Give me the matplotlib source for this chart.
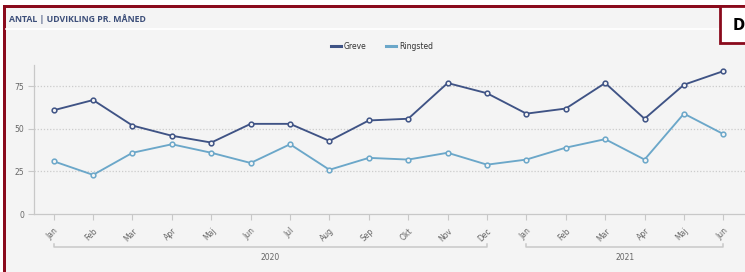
import numpy as np
import matplotlib.pyplot as plt
from matplotlib.patches import Rectangle
from matplotlib.lines import Line2D

months = ["Jan", "Feb", "Mar", "Apr", "Maj", "Jun", "Jul", "Aug", "Sep", "Okt", "Nov", "Dec",
          "Jan", "Feb", "Mar", "Apr", "Maj", "Jun"]
greve = [61, 67, 52, 46, 42, 53, 53, 43, 55, 56, 77, 71, 59, 62, 77, 56, 76, 84]
ringsted = [31, 23, 36, 41, 36, 30, 41, 26, 33, 32, 36, 29, 32, 39, 44, 32, 59, 47]
years = ["2020", "2021"]
year_spans = [(0, 11), (12, 17)]
yticks = [0, 25, 50, 75]

c_greve = "#3f5385"
c_ring = "#6ba7c9"
red = "#8a0a1c"
bg = "#f4f4f4"
W, H = 745, 272

fig = plt.figure(figsize=(W / 100, H / 100), dpi=100)
fig.patch.set_facecolor("white")

def box(x0, y0, x1, y1, **kw):
    # pixel coords, y from top
    fig.patches.append(Rectangle((x0 / W, 1 - y1 / H), (x1 - x0) / W, (y1 - y0) / H,
                                 transform=fig.transFigure, **kw))

# panel background and border
box(3, 5, W, H, facecolor=red, edgecolor="none", zorder=-3)
box(6.5, 8, W, H, facecolor=bg, edgecolor="none", zorder=-2)
fig.add_artist(Line2D([6.5 / W, 720 / W], [1 - 28.5 / H] * 2, color="white", lw=1.2))
fig.text(9 / W, 1 - 19 / H, "ANTAL | UDVIKLING PR. MÅNED", fontsize=6.3, fontweight="bold",
         color="#3d4f7a", va="center", ha="left", family="Open Sans")

# "D" box at top right
box(720, 6, W + 5, 43, facecolor="white", edgecolor=red, lw=2, zorder=5)
fig.text(733 / W, 1 - 26 / H, "D", fontsize=10.5, fontweight="bold", color="black",
         va="center", ha="left", zorder=6)

ax = fig.add_axes([34 / W, 1 - 214 / H, (W - 34) / W, (214 - 65) / H])
ax.set_facecolor("none")
x = np.arange(len(months))
mk = dict(marker="o", markersize=3.4, markerfacecolor=bg, markeredgewidth=1.1, lw=1.35)
ax.plot(x, greve, color=c_greve, label="Greve", **mk)
ax.plot(x, ringsted, color=c_ring, label="Ringsted", **mk)

ax.set_xlim(-0.5, 17.55)
ax.set_ylim(0, 87.6)
ax.set_yticks(yticks)
ax.set_yticklabels([str(v) for v in yticks])
for v in yticks[1:]:
    ax.axhline(v, color="#cccccc", lw=0.9, ls=(0, (1, 1.5)), zorder=0)
ax.set_xticks(x)
ax.set_xticklabels(months, rotation=45, ha="right", rotation_mode="anchor")
ax.tick_params(axis="x", length=4, width=0.8, color="#c8c8c8", labelsize=5.5,
               labelcolor="#666666", pad=5)
ax.tick_params(axis="y", length=4, width=0.8, color="#c8c8c8", labelsize=5.5,
               labelcolor="#666666", pad=3)
for s in ["top", "right"]:
    ax.spines[s].set_visible(False)
ax.spines["left"].set_color("#c8c8c8")
ax.spines["bottom"].set_color("#c8c8c8")
ax.spines["left"].set_linewidth(0.9)
ax.spines["bottom"].set_linewidth(0.9)

# year brackets below the month labels
tr = ax.get_xaxis_transform()
for yr, (a, b) in zip(years, year_spans):
    yb = -(247 - 214) / (214 - 65)
    ax.plot([a, a, b, b], [yb + 0.02, yb, yb, yb + 0.02], color="#c8c8c8", lw=1.1,
            transform=tr, clip_on=False)
    ax.text((a + b) / 2, -(257 - 214) / (214 - 65), yr, transform=tr, ha="center",
            va="center", fontsize=5.5, color="#666666")

leg = fig.legend(loc="center", bbox_to_anchor=(382 / W, 1 - 46 / H), ncol=2, frameon=False,
                 handlelength=1.3, handletextpad=0.35, columnspacing=2.6,
                 prop={"size": 5.5})
for h in leg.legend_handles:
    h.set_marker("")
    h.set_linewidth(2.2)
for t in leg.get_texts():
    t.set_color("#333333")

fig.savefig("out.png", dpi=100, facecolor=fig.get_facecolor())
